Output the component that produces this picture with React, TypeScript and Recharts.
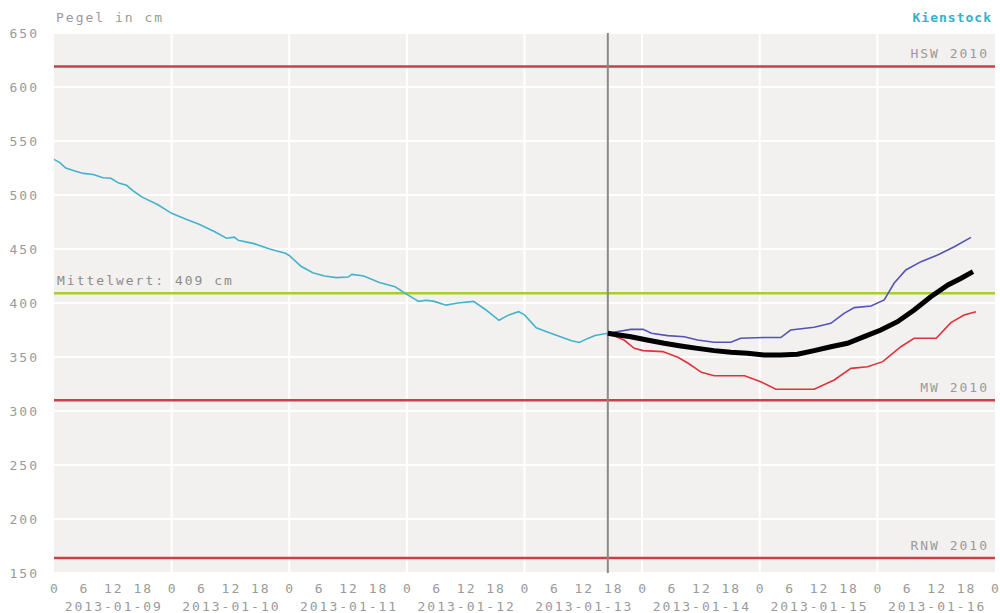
import { LineChart, Line, XAxis, YAxis, CartesianGrid, ReferenceLine } from 'recharts'

// hours since 2013-01-09 00:00
const DATES = ['2013-01-09', '2013-01-10', '2013-01-11', '2013-01-12', '2013-01-13', '2013-01-14', '2013-01-15', '2013-01-16']
const HOUR_TICKS = Array.from({ length: 33 }, (_, i) => i * 6)
const DAY_LINES = [24, 48, 72, 96, 120, 144, 168]
const Y_TICKS = [150, 200, 250, 300, 350, 400, 450, 500, 550, 600, 650]

const NOW = 113
const HSW = 619
const MW = 310
const RNW = 164
const MITTEL = 409

// measured levels
const histHours = [0, 1.2, 2.4, 4.4, 6, 8, 10, 11.6, 13.2, 14.8, 16.4, 18, 21.2, 24, 27.2, 29.6, 32.8, 35.2, 36.8, 37.6, 40.8, 44, 47.2, 48, 50.4, 52.8, 55.2, 57.6, 60, 60.8, 63.2, 66.4, 69.6, 72, 74.4, 76, 77.6, 80, 82.4, 85.6, 88, 90.8, 92.8, 94.8, 96, 98.4, 100.8, 103.2, 105.6, 107.2, 108.8, 110.4, 113]
const histValues = [533, 530, 525, 522, 520, 519, 516, 515.5, 511, 509, 503, 498, 491, 483, 477, 473, 466, 460, 461, 458, 455, 450, 446, 444, 434, 428, 425, 423.5, 424, 426.5, 425, 419, 415, 408, 401.5, 402.5, 401.5, 398, 400, 401.5, 394, 384, 389, 392, 389, 377, 373, 369, 365, 363.5, 367, 370, 372]

// forecast
const fcHours = [113, 113.9, 117.7, 121, 124.5, 127.9, 131.3, 134.7, 138.1, 141.5, 144.9, 148.3, 151.7, 155.1, 158.5, 161.9, 165.3, 168.7, 172.1, 175.5, 178.9, 182.4, 185.1, 187.5]
const fcValues = [372, 371.3, 368.8, 365.7, 362.7, 360.2, 358, 355.9, 354.3, 353.4, 351.9, 351.9, 352.5, 355.9, 359.5, 362.7, 368.8, 375, 382.7, 393.5, 405.8, 416.7, 422.9, 429]

const upHours = [113, 117.7, 120.2, 121.9, 125.2, 128.6, 131.3, 134.7, 138.1, 140.1, 144.9, 148.3, 150.3, 155.1, 158.5, 161.2, 163.3, 166.7, 169.4, 171.4, 173.8, 176.9, 180.3, 183.7, 187.1]
const upValues = [372, 375.6, 375.6, 372, 369.8, 368.8, 365.7, 363.6, 363.6, 367.3, 368, 368, 375, 377.5, 381.2, 390.4, 395.7, 397.2, 402.8, 418.2, 430.6, 438.3, 444.4, 452.1, 460.8]

const lowHours = [113, 116.3, 118.4, 120.2, 124.2, 127.3, 129.4, 132.1, 134.7, 140.9, 144.2, 147.3, 155.1, 159.2, 162.6, 166, 169.1, 172.8, 175.5, 180, 183, 185.7, 188.1]
const lowValues = [372, 365.7, 358, 355.9, 355, 349.7, 344.2, 335.8, 332.7, 332.7, 327.1, 320.1, 320.1, 328.7, 339.5, 341, 345.7, 359.5, 367.3, 367.3, 381.8, 388.9, 391.9]

const zip = (hs: number[], vs: number[]) => hs.map((h, i) => ({ h, v: vs[i] }))
const histData = zip(histHours, histValues)
const fcData = zip(fcHours, fcValues)
const upData = zip(upHours, upValues)
const lowData = zip(lowHours, lowValues)

const FONT = '"DejaVu Sans Mono", monospace'
const GREY = '#9a9a9a'
const txt = { fontFamily: FONT, fontSize: 13, letterSpacing: 2, fill: GREY }

const XTick = ({ x, payload }: any) => {
  const h = payload.value
  const hr = h % 24
  const day = Math.floor(h / 24)
  return (
    <g>
      <text x={x + 1} y={593} textAnchor="middle" {...txt}>{hr}</text>
      {hr === 12 && day < DATES.length && (
        <text x={x + 1} y={611} textAnchor="middle" {...txt}>{DATES[day]}</text>
      )}
    </g>
  )
}

const YTick = ({ y, payload }: any) => (
  <text x={39} y={y} dy="0.35em" textAnchor="end" {...txt}>{payload.value}</text>
)

const lineLabel = (text: string, left = false) => (props: any) => {
  const { viewBox } = props
  return (
    <text
      x={left ? viewBox.x + 3 : viewBox.x + viewBox.width - 6}
      y={viewBox.y - 8}
      textAnchor={left ? 'start' : 'end'}
      {...txt}
      fill={left ? '#8c8c8c' : GREY}
    >
      {text}
    </text>
  )
}

export default function App() {
  return (
    <div style={{ position: 'absolute', left: 0, top: 0, width: 1000, height: 613, background: '#fff' }}>
      <div style={{ position: 'absolute', left: 56, top: 10, fontFamily: FONT, fontSize: 13, letterSpacing: 2, color: GREY }}>
        Pegel in cm
      </div>
      <div style={{ position: 'absolute', right: 8, top: 10, fontFamily: FONT, fontSize: 13, letterSpacing: 1, color: '#3aaecb', fontWeight: 'bold' }}>
        Kienstock
      </div>
      <LineChart width={1000} height={613} margin={{ top: 33, right: 5, bottom: 0, left: 0 }}>
        <CartesianGrid vertical={false} fill="#f2f1ef" stroke="#ffffff" strokeWidth={2} />
        <XAxis
          type="number"
          dataKey="h"
          domain={[0, 192]}
          ticks={HOUR_TICKS}
          interval={0}
          height={40}
          axisLine={false}
          tickLine={false}
          tick={<XTick />}
          allowDuplicatedCategory={false}
        />
        <YAxis
          type="number"
          domain={[150, 650]}
          ticks={Y_TICKS}
          interval={0}
          width={54}
          axisLine={false}
          tickLine={false}
          tick={<YTick />}
        />
        {DAY_LINES.map((d) => (
          <ReferenceLine key={d} x={d} stroke="#ffffff" strokeWidth={2} />
        ))}
        <ReferenceLine y={HSW} stroke="#c9404a" strokeWidth={2.5} label={lineLabel('HSW 2010')} />
        <ReferenceLine y={MW} stroke="#c9404a" strokeWidth={2.5} label={lineLabel('MW 2010')} />
        <ReferenceLine y={RNW} stroke="#c9404a" strokeWidth={2.5} label={lineLabel('RNW 2010')} />
        <ReferenceLine y={MITTEL} stroke="#a9cc2e" strokeWidth={2.5} label={lineLabel('Mittelwert: 409 cm', true)} />
        <ReferenceLine x={NOW} stroke="#8a8a8a" strokeWidth={2} />
        <Line data={histData} dataKey="v" type="linear" stroke="#45b2cc" strokeWidth={1.6} dot={false} isAnimationActive={false} />
        <Line data={upData} dataKey="v" type="linear" stroke="#5454b6" strokeWidth={1.6} dot={false} isAnimationActive={false} />
        <Line data={lowData} dataKey="v" type="linear" stroke="#e0323a" strokeWidth={1.6} dot={false} isAnimationActive={false} />
        <Line data={fcData} dataKey="v" type="linear" stroke="#000000" strokeWidth={5} dot={false} isAnimationActive={false} />
      </LineChart>
    </div>
  )
}
